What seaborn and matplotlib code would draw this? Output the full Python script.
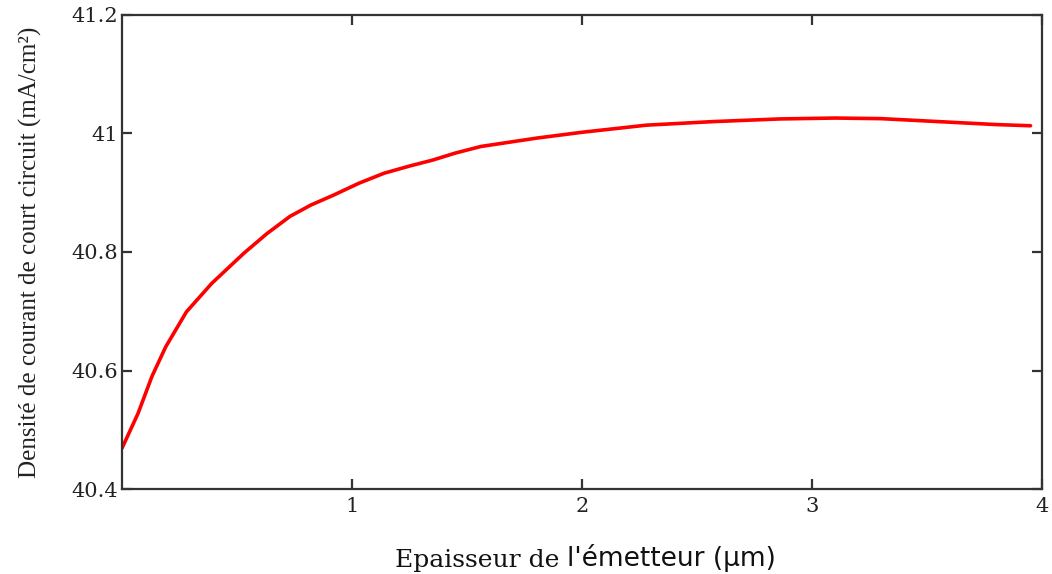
import matplotlib
matplotlib.use("Agg")
import matplotlib.pyplot as plt
import seaborn as sns
import pandas as pd

# Data
thickness_um = [0.0, 0.07, 0.13, 0.19, 0.28, 0.39, 0.53, 0.63, 0.73, 0.82, 0.92,
                1.03, 1.14, 1.25, 1.35, 1.45, 1.56, 1.68, 1.8, 2.0, 2.28, 2.57,
                2.86, 3.1, 3.3, 3.5, 3.65, 3.8, 3.95]
jsc_mA_cm2 = [40.469, 40.528, 40.590, 40.640, 40.699, 40.747, 40.798, 40.831,
              40.860, 40.879, 40.896, 40.916, 40.933, 40.945, 40.955, 40.967,
              40.978, 40.985, 40.992, 41.002, 41.014, 41.020, 41.0245, 41.026,
              41.025, 41.021, 41.018, 41.015, 41.013]
x_ticks = [1, 2, 3, 4]
x_tick_labels = ["1", "2", "3", "4"]
y_ticks = [40.4, 40.6, 40.8, 41.0, 41.2]
y_tick_labels = ["40.4", "40.6", "40.8", "41", "41.2"]

df = pd.DataFrame({"x": thickness_um, "y": jsc_mA_cm2})

sns.set_style("ticks")
plt.rcParams["font.family"] = ["DejaVu Serif"]

fig = plt.figure(figsize=(10.52, 5.74), dpi=100)
ax = fig.add_axes([0.116, 0.148, 0.8745, 0.826])

sns.lineplot(data=df, x="x", y="y", ax=ax, color="#ff0000", linewidth=2.6)

ax.set_xlim(0, 4)
ax.set_ylim(40.4, 41.2)
ax.set_xticks(x_ticks)
ax.set_xticklabels(x_tick_labels)
ax.set_yticks(y_ticks)
ax.set_yticklabels(y_tick_labels)

for s in ax.spines.values():
    s.set_visible(True)
    s.set_color("#333333")
    s.set_linewidth(1.6)

ax.tick_params(axis="both", which="both", direction="in", length=7, width=1.6,
               color="#333333", top=True, right=True, labelsize=15,
               labelcolor="#222222")
ax.tick_params(axis="x", pad=6)
ax.tick_params(axis="y", pad=3)

ax.set_xlabel("")
ax.set_ylabel("Densité de courant de court circuit (mA/cm²)",
              family=["Liberation Serif", "DejaVu Serif"], fontsize=18,
              color="#222222")
ax.yaxis.set_label_coords(-0.087, 0.5)

t1 = fig.text(0.3755, 0.0122, "Epaisseur de ", family="DejaVu Serif",
              fontsize=18, color="#111111", va="baseline", ha="left")
ax.annotate("l'émetteur (µm)", xy=(1, 0), xycoords=t1, va="bottom", ha="left",
            family="DejaVu Sans", fontsize=19, color="#111111",
            annotation_clip=False)

fig.savefig("out.png", dpi=100)
